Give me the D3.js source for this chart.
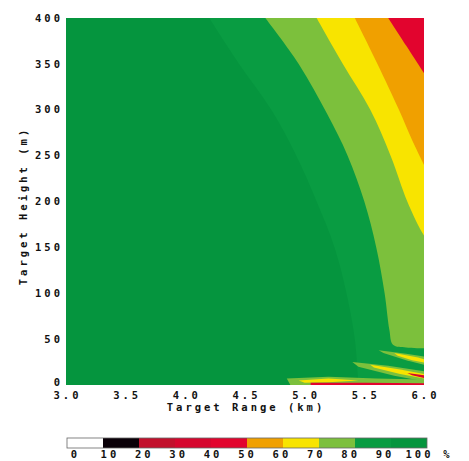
<!DOCTYPE html>
<html>
<head>
<meta charset="utf-8">
<script src="https://cdn.jsdelivr.net/npm/d3@7"></script>
<style>
  body { margin: 0; background: #fff; }
  svg text { font-family: "DejaVu Sans Mono", monospace; font-weight: bold; font-size: 10.5px; fill: #111; letter-spacing: 3px; }
</style>
</head>
<body>
<svg width="469" height="461"></svg>
<script>
var rangeTicks = [3.0, 3.5, 4.0, 4.5, 5.0, 5.5, 6.0];
var heightTicks = [0, 50, 100, 150, 200, 250, 300, 350, 400];
var levelTicks = [0, 10, 20, 30, 40, 50, 60, 70, 80, 90, 100];
var levelColors = ["#ffffff", "#0a0008", "#c2102c", "#d6062e", "#e2042e", "#f0a000", "#f8e400", "#7cc03c", "#099c42", "#05953e"];

// contour boundaries [range km, height m]; each is where the probability
// falls below the level, the region is closed through the corner points
var below90 = [[4.20, 400], [4.45, 350], [4.72, 300], [4.93, 250], [5.10, 200], [5.25, 150], [5.35, 100], [5.42, 50], [5.45, 0]];
var below80 = [[4.67, 400], [4.95, 350], [5.19, 295], [5.36, 250], [5.50, 200], [5.60, 150], [5.67, 100], [5.71, 60], [5.74, 44], [5.85, 41], [6.0, 40]];
var below70 = [[5.10, 400], [5.32, 350], [5.55, 300], [5.72, 250], [5.86, 200], [5.96, 172], [6.0, 163]];
var below60 = [[5.42, 400], [5.61, 350], [5.79, 300], [5.90, 267], [6.0, 240]];
var below50 = [[5.70, 400], [5.85, 370], [6.0, 340]];
var cornerBottom = [[6.0, 0], [6.0, 400]];
var cornerRight = [[6.0, 400]];

// streaks near the ground
var streakA80 = [[4.85, 7], [5.20, 9], [5.60, 7], [6.0, 6], [6.0, 0], [4.88, 0]];
var streakA70 = [[4.95, 5], [5.20, 7], [5.45, 5], [5.20, 3], [5.00, 2.5]];
var streakA50 = [[5.05, 2.5], [5.50, 2.5], [6.0, 2], [6.0, 0], [5.05, 0]];
var streakB80 = [[5.40, 25], [5.70, 21], [6.0, 15], [6.0, 4], [5.75, 10], [5.45, 20]];
var streakB70 = [[5.55, 22], [5.80, 17], [6.0, 12], [6.0, 7], [5.80, 12], [5.58, 19]];
var streakB50 = [[5.86, 13], [6.0, 10.5], [6.0, 7.5], [5.90, 10.5]];
var streakC80 = [[5.62, 38], [5.85, 34], [6.0, 31], [6.0, 22], [5.85, 27], [5.66, 35]];
var streakC70 = [[5.75, 35], [5.95, 30], [6.0, 28], [6.0, 24.5], [5.90, 27], [5.78, 32]];

var svg = d3.select("svg"),
    plotLeft = 66, plotRight = 424, plotTop = 18, plotBottom = 385;

var x = d3.scaleLinear().domain([3.0, 6.0]).range([plotLeft, plotRight]);
var y = d3.scaleLinear().domain([0, 400]).range([plotBottom, plotTop]);

svg.append("clipPath").attr("id", "plotclip")
    .append("rect")
    .attr("x", plotLeft).attr("y", plotTop)
    .attr("width", plotRight - plotLeft).attr("height", plotBottom - plotTop);

var plot = svg.append("g").attr("clip-path", "url(#plotclip)");

plot.append("rect")
    .attr("x", x(3.0)).attr("y", y(400))
    .attr("width", x(6.0) - x(3.0)).attr("height", y(0) - y(400))
    .attr("fill", levelColors[9]);

var smooth = d3.line()
    .x(function (d) { return x(d[0]); })
    .y(function (d) { return y(d[1]); })
    .curve(d3.curveCatmullRom);

var straight = d3.line()
    .x(function (d) { return x(d[0]); })
    .y(function (d) { return y(d[1]); });

function regionPath(d) {
    var p = smooth(d.pts);
    if (d.corners) {
        d.corners.forEach(function (c) { p += "L" + x(c[0]) + "," + y(c[1]); });
    }
    return p + "Z";
}

var contours = [
    { pts: below90, corners: cornerBottom, color: levelColors[8] },
    { pts: below80, corners: cornerRight, color: levelColors[7] },
    { pts: below70, corners: cornerRight, color: levelColors[6] },
    { pts: below60, corners: cornerRight, color: levelColors[5] },
    { pts: below50, corners: cornerRight, color: levelColors[4] }
];

plot.selectAll("path.band")
    .data(contours)
    .enter().append("path")
    .attr("class", "band")
    .attr("d", regionPath)
    .attr("fill", function (d) { return d.color; });

var streaks = [
    { pts: streakA80, color: levelColors[7] },
    { pts: streakA70, color: levelColors[6] },
    { pts: streakA50, color: levelColors[4] },
    { pts: streakB80, color: levelColors[7] },
    { pts: streakB70, color: levelColors[6] },
    { pts: streakB50, color: levelColors[3] },
    { pts: streakC80, color: levelColors[7] },
    { pts: streakC70, color: levelColors[6] }
];

plot.selectAll("path.streak")
    .data(streaks)
    .enter().append("path")
    .attr("class", "streak")
    .attr("d", function (d) { return straight(d.pts) + "Z"; })
    .attr("fill", function (d) { return d.color; });

// axis labels, no lines or ticks in the original
svg.append("g").selectAll("text")
    .data(heightTicks)
    .enter().append("text")
    .attr("x", 63)
    .attr("y", function (d) { return y(d); })
    .attr("dy", d => d === 0 ? "0.1em" : "0.35em")
    .attr("text-anchor", "end")
    .text(function (d) { return d; });

svg.append("g").selectAll("text")
    .data(rangeTicks)
    .enter().append("text")
    .attr("x", function (d) { return x(d) + 1.5; })
    .attr("y", 399)
    .attr("text-anchor", "middle")
    .text(function (d) { return d.toFixed(1); });

svg.append("text")
    .attr("x", 246).attr("y", 411)
    .attr("text-anchor", "middle")
    .text("Target Range (km)");

svg.append("text")
    .attr("transform", "translate(27,206) rotate(-90)")
    .attr("text-anchor", "middle")
    .text("Target Height (m)");

// colour bar
var cx = d3.scaleLinear().domain([0, 100]).range([67, 427]);
var lx = d3.scaleLinear().domain([0, 100]).range([74, 418]);

svg.append("g").selectAll("rect")
    .data(levelColors)
    .enter().append("rect")
    .attr("x", function (d, i) { return cx(levelTicks[i]); })
    .attr("y", 438)
    .attr("width", function (d, i) { return cx(levelTicks[i + 1]) - cx(levelTicks[i]); })
    .attr("height", 10)
    .attr("fill", function (d) { return d; });

svg.append("rect")
    .attr("x", cx(0)).attr("y", 438)
    .attr("width", cx(100) - cx(0)).attr("height", 10)
    .attr("fill", "none").attr("stroke", "#666").attr("stroke-width", 0.8);

svg.append("g").selectAll("text")
    .data(levelTicks)
    .enter().append("text")
    .attr("x", function (d) { return lx(d) + 1.5; })
    .attr("y", 458)
    .attr("text-anchor", "middle")
    .text(function (d) { return d; });

svg.append("text")
    .attr("x", 448).attr("y", 458)
    .attr("text-anchor", "middle")
    .text("%");
</script>
</body>
</html>
